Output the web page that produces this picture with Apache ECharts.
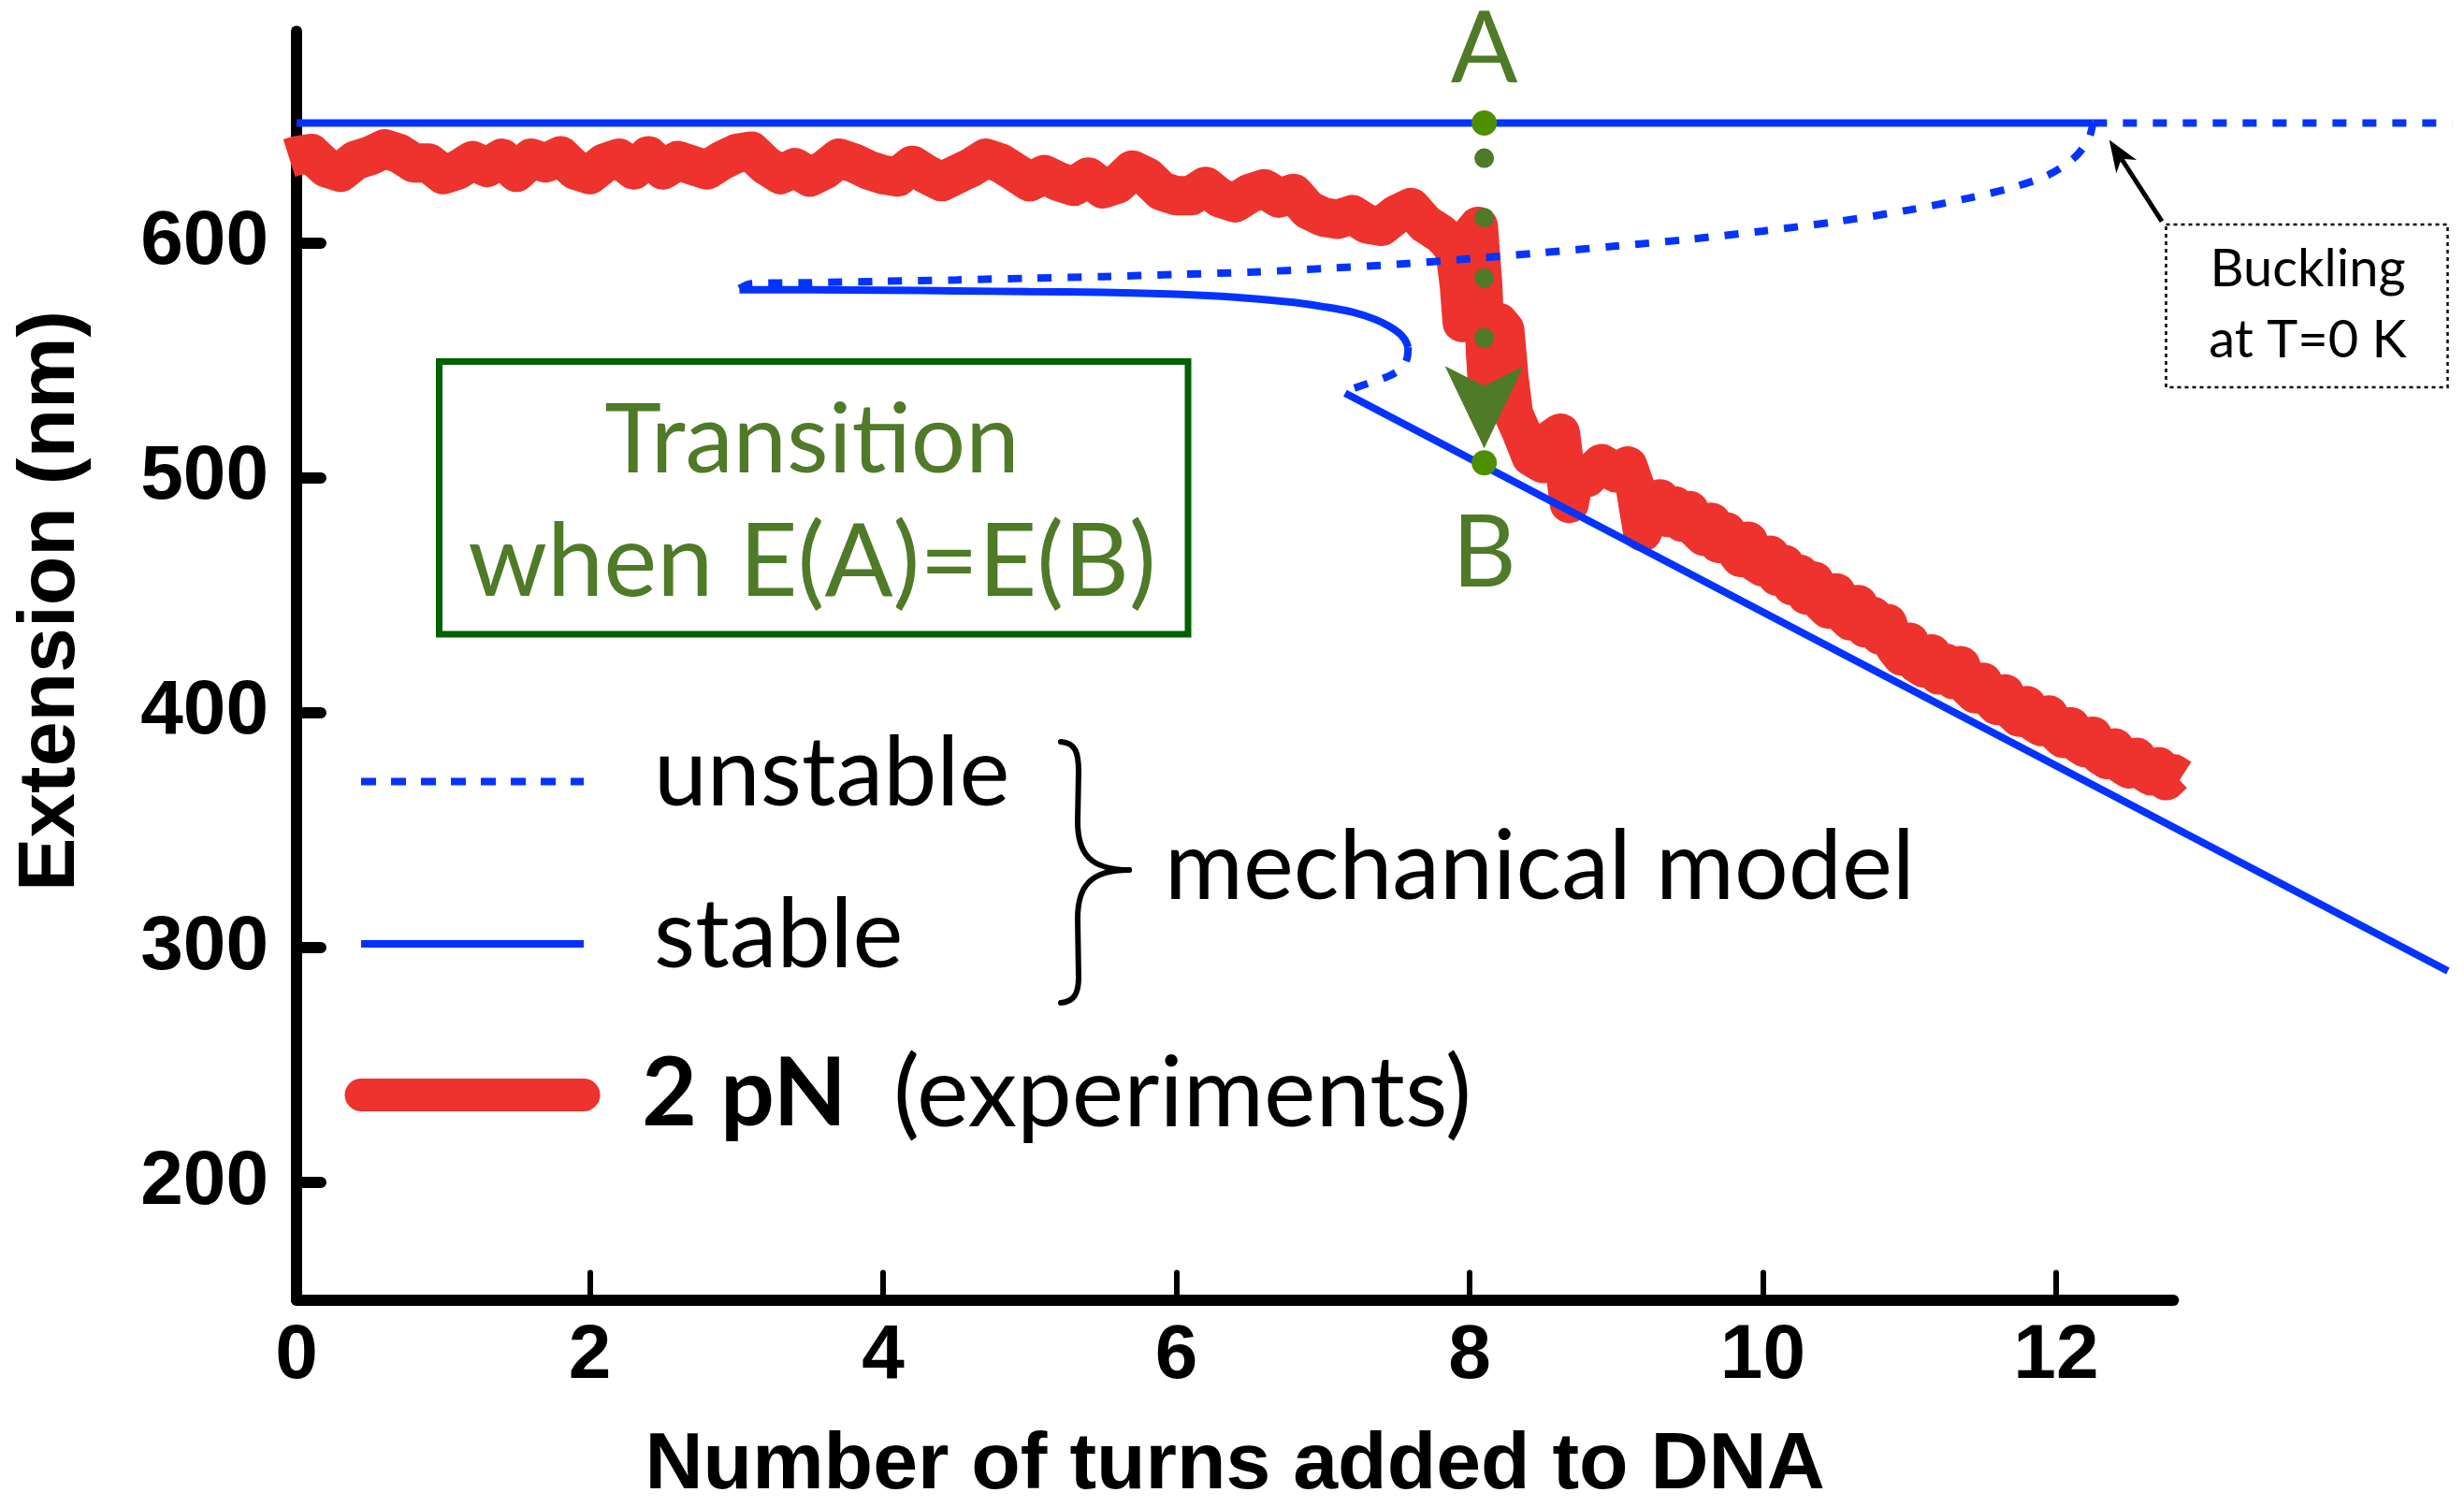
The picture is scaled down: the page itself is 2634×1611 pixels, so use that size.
<!DOCTYPE html>
<html><head><meta charset="utf-8">
<script src="https://cdn.jsdelivr.net/npm/echarts@6.0.0/dist/echarts.min.js"></script>
<style>html,body{margin:0;padding:0;background:#fff}#c{width:2634px;height:1611px}</style>
</head><body><div id="c"></div>
<script>
// ---------- axis ticks ----------
const xTickLabels = [0, 2, 4, 6, 8, 10, 12];
const xTickMarks = [2, 4, 6, 8, 10, 12];
const yTickLabels = [200, 300, 400, 500, 600];

// ---------- experiment: 2 pN ----------
const expX = [-0.05,
  0.0,0.1,0.2,0.3,0.4,0.5,0.6,0.7,0.8,0.9,
  1.0,1.1,1.2,1.3,1.4,1.5,1.6,1.7,1.8,1.9,
  2.0,2.1,2.2,2.3,2.4,2.5,2.6,2.7,2.8,2.9,
  3.0,3.1,3.2,3.3,3.4,3.5,3.6,3.7,3.8,3.9,
  4.0,4.1,4.2,4.3,4.4,4.5,4.6,4.7,4.8,4.9,
  5.0,5.1,5.2,5.3,5.4,5.5,5.6,5.7,5.8,5.9,
  6.0,6.1,6.2,6.3,6.4,6.5,6.6,6.7,6.8,6.9,
  7.0,7.1,7.2,7.3,7.4,7.5,7.6,7.7,7.8,
  7.85,7.9,7.93,7.95,7.98,8.02,8.06,8.09,8.11,8.13,8.16,8.2,8.24,8.27,8.3,8.35,8.42,8.5,8.55,8.62,8.68,8.72,8.8,8.9,9.0,9.08,9.13,9.18,9.25,
  9.3,9.35,9.4,9.45,9.5,9.55,9.6,9.65,9.7,9.75,
  9.8,9.85,9.9,9.95,10.0,10.05,10.1,10.15,10.2,10.25,
  10.3,10.35,10.4,10.45,10.5,10.55,10.6,10.65,10.7,10.75,
  10.8,10.85,10.9,10.95,11.0,11.05,11.1,11.15,11.2,11.25,
  11.3,11.35,11.4,11.45,11.5,11.55,11.6,11.65,11.7,11.75,
  11.8,11.85,11.9,11.95,12.0,12.05,12.1,12.15,12.2,12.25,
  12.3,12.35,12.4,12.45,12.5,12.55,12.6,12.65,12.7,12.75,
  12.8,12.85];
const expY = [636,
  637,638,632,630,635,637,640,638,634,634,
  629,631,635,632,636,630,636,634,637,631,
  629,634,636,631,637,631,635,633,631,635,
  638,639,633,629,632,628,631,636,634,631,
  629,628,633,629,626,629,632,636,634,630,
  626,629,626,624,628,623,625,631,628,622,
  620,620,624,619,617,621,623,619,621,614,
  611,610,612,608,607,612,615,608,604,
  601,597,582,566,575,604,607,582,552,533,546,566,563,542,527,520,509,506,516,519,489,502,500,506,502,505,496,477,488,
  491,483,488,481,486,478,475,481,472,477,
  470,466,473,464,462,467,458,463,454,459,
  450,456,447,444,451,442,439,446,436,441,
  433,438,428,424,430,421,419,425,416,421,
  414,420,411,408,413,406,403,408,401,398,
  403,396,394,399,392,389,394,387,385,390,
  382,380,385,378,376,381,375,373,377,371,
  374,372];

// ---------- mechanical model ----------
const stableTopX = [0, 12.25];
const stableTopY = [651, 651];
const unstableTopX = [12.25, 14.7];
const unstableTopY = [651, 651];
const unstableUpperX = [3.02,3.1,3.5,4.0,4.5,5.0,5.5,6.0,6.5,7.0,7.5,8.0,8.5,9.0,9.5,10.0,10.5,11.0,11.4,11.7,11.95,12.12,12.22,12.25];
const unstableUpperY = [580.5,582.6,583.0,583.6,584.2,584.9,585.6,586.5,587.5,589,590.8,593.2,595.8,598.6,601.5,605,609,614,619,623.5,629,636,644,651];
const stableMidX = [3.02,3.5,4.0,4.5,5.0,5.5,6.0,6.4,6.8,7.0,7.2,7.35,7.45,7.52,7.56,7.58];
const stableMidY = [580,580,579.8,579.5,579.2,578.9,578.1,576.8,574.6,572.8,570.5,567.5,564.5,561.5,558.5,555.5];
const unstableFoldX = [7.58,7.575,7.555,7.51,7.44,7.33,7.15];
const unstableFoldY = [555.5,551.5,548.2,545.4,543,540.6,536.8];
const stableLowX = [7.15, 14.67];
const stableLowY = [536, 290];

// ---------- transition annotation ----------
const transitionX = 8.10;
const endStatesY = [651, 506.3];          // A and B
const pathDotsY = [636, 610.7, 585, 559.6];
const arrowHeadY = 530;
const letterAY = 682;
const letterBY = 467.4;

const BLUE = '#0433FF', RED = '#EE322D', OLIVE = '#4F7A28', LEAF = '#4E8F00', BOXGREEN = '#006100';
const zip = (xs, ys) => xs.map((x, i) => [x, ys[i]]);

const chart = echarts.init(document.getElementById('c'), null, {renderer: 'canvas', width: 2634, height: 1611});

// grid 1 shares the scale of grid 0 but reaches the right edge of the picture
const blueLine = (name, xs, ys, dashed, extra) => Object.assign({
  name, type: 'line', xAxisIndex: 1, yAxisIndex: 1, data: zip(xs, ys), symbol: 'none', showSymbol: false,
  lineStyle: {color: BLUE, width: 8, type: dashed ? [15, 17] : 'solid', cap: 'butt'},
  itemStyle: {color: BLUE}, z: 3, silent: true, clip: false
}, extra || {});

const legendRow = (name, left, top, lineStyle, fmt) => ({
  orient: 'vertical', left: left, top: top, padding: 0,
  itemWidth: 238, itemHeight: 40, selectedMode: false,
  data: [{name: name, itemStyle: {color: 'rgba(0,0,0,0)', borderWidth: 0}, lineStyle: lineStyle}],
  formatter: fmt,
  textStyle: {
    fontFamily: 'Lato', fontSize: 102, color: '#000',
    rich: {
      s1: {width: 70, lineHeight: 120},
      s2: {width: 57, lineHeight: 120},
      g: {width: 50, lineHeight: 120},
      u: {fontFamily: 'Lato', fontSize: 102, lineHeight: 120, color: '#000', padding: [0, 0, 15, 0]},
      b: {fontFamily: 'Lato', fontWeight: 'bold', fontSize: 102, lineHeight: 120, color: '#000'},
      t: {fontFamily: 'Lato', fontSize: 105, lineHeight: 120, color: '#000'}
    }
  }
});

const axisFont = {fontFamily: 'Liberation Sans', fontWeight: 'bold', color: '#000'};

const option = {
  animation: false,
  backgroundColor: '#fff',
  grid: [
    {left: 317, right: 310.7, top: 33.5, bottom: 221.4, containLabel: false, outerBoundsMode: 'none'},
    {left: 317, right: 0, top: 33.5, bottom: 221.4, containLabel: false, outerBoundsMode: 'none'}
  ],
  xAxis: [{
    gridIndex: 0, type: 'value', min: 0, max: 12.8,
    name: 'Number of turns added to DNA', nameLocation: 'middle', nameGap: 135,
    nameTextStyle: Object.assign({fontSize: 86}, axisFont),
    axisLine: {show: true, lineStyle: {color: '#000', width: 12, cap: 'round'}},
    axisTick: {show: true, inside: true, length: 29, customValues: xTickMarks, lineStyle: {color: '#000', width: 6, cap: 'round'}},
    axisLabel: Object.assign({show: true, margin: 20, customValues: xTickLabels, fontSize: 82}, axisFont),
    splitLine: {show: false}
  }, {
    gridIndex: 1, type: 'value', min: 0, max: 14.78, show: false
  }],
  yAxis: [{
    gridIndex: 0, type: 'value', min: 150, max: 690,
    name: 'Extension (nm)', nameLocation: 'middle', nameGap: 219, nameRotate: 90,
    nameTextStyle: Object.assign({fontSize: 86, padding: [0, 0, 0, 138]}, axisFont),
    axisLine: {show: true, lineStyle: {color: '#000', width: 12, cap: 'round'}},
    axisTick: {show: true, inside: true, length: 26, customValues: yTickLabels, lineStyle: {color: '#000', width: 12, cap: 'round'}},
    axisLabel: Object.assign({show: true, margin: 30, customValues: yTickLabels, fontSize: 82}, axisFont),
    splitLine: {show: false}
  }, {
    gridIndex: 1, type: 'value', min: 150, max: 690, show: false
  }],
  legend: [
    legendRow('unstable', 382, 777, {color: BLUE, width: 8, type: [16, 16], cap: 'butt'}, n => '{s1|}{u|' + n + '}'),
    legendRow('stable', 382, 950.5, {color: BLUE, width: 8, type: 'solid', cap: 'butt'}, n => '{s1|}{u|' + n + '}'),
    legendRow('2 pN (experiments)', 368.5, 1118, {color: RED, width: 35, cap: 'round'}, n => '{s2|}{b|2 pN}{g|}{t|(experiments)}')
  ],
  series: [
    {
      name: '2 pN (experiments)', type: 'line', xAxisIndex: 0, yAxisIndex: 0, data: zip(expX, expY),
      symbol: 'none', showSymbol: false,
      lineStyle: {color: RED, width: 42, cap: 'butt', join: 'round'}, itemStyle: {color: RED}, z: 2, silent: true
    },
    blueLine('stable', stableTopX, stableTopY, false),
    blueLine('unstable', unstableTopX, unstableTopY, true),
    blueLine('unstable', unstableUpperX, unstableUpperY, true, {smooth: 0.3}),
    blueLine('stable', stableMidX, stableMidY, false, {smooth: 0.3}),
    blueLine('unstable', unstableFoldX, unstableFoldY, true, {smooth: 0.3}),
    blueLine('stable', stableLowX, stableLowY, false),
    {
      name: 'path dots', type: 'scatter', z: 5, silent: true, symbolSize: 21,
      itemStyle: {color: OLIVE, opacity: 1},
      data: pathDotsY.map(y => [transitionX, y])
    },
    {
      name: 'end states', type: 'scatter', z: 5, silent: true, symbolSize: 27,
      itemStyle: {color: LEAF, opacity: 1},
      data: endStatesY.map(y => [transitionX, y])
    },
    {
      name: 'transition arrow', type: 'scatter', z: 5, silent: true,
      symbol: 'path://M0,0 L50,24 L100,0 L50,100 Z', symbolSize: [84, 88],
      itemStyle: {color: OLIVE, opacity: 1}, data: [[transitionX, arrowHeadY]]
    },
    {
      name: 'state labels', type: 'scatter', z: 6, silent: true, symbolSize: 1,
      itemStyle: {color: 'rgba(0,0,0,0)', opacity: 1},
      label: {show: true, position: 'inside', formatter: '{b}', fontFamily: 'Lato', fontSize: 106, color: OLIVE, opacity: 1},
      data: [{name: 'A', value: [transitionX, letterAY]}, {name: 'B', value: [transitionX, letterBY]}]
    }
  ],
  graphic: [
    {type: 'rect', shape: {x: 469.5, y: 386.5, width: 800.5, height: 291.5}, style: {fill: 'none', stroke: BOXGREEN, lineWidth: 7}, silent: true},
    {type: 'text', x: 868, y: 471.5, style: {text: 'Transition', font: '103px Lato', fill: OLIVE, align: 'center', verticalAlign: 'middle'}, silent: true},
    {type: 'text', x: 868, y: 602, style: {text: 'when E(A)=E(B)', font: '108px Lato', fill: OLIVE, align: 'center', verticalAlign: 'middle'}, silent: true},
    {type: 'text', x: 1245, y: 928.5, style: {text: 'mechanical model', font: '102px Lato', fill: '#000', align: 'left', verticalAlign: 'middle'}, silent: true},
    {type: 'bezierCurve', shape: {x1: 1134, y1: 793, cpx1: 1150, cpy1: 794, cpx2: 1153, cpy2: 805, x2: 1153, y2: 825}, style: {stroke: '#000', lineWidth: 6, fill: 'none', lineCap: 'round'}, silent: true},
    {type: 'line', shape: {x1: 1153, y1: 825, x2: 1152, y2: 878}, style: {stroke: '#000', lineWidth: 6, lineCap: 'round'}, silent: true},
    {type: 'bezierCurve', shape: {x1: 1152, y1: 878, cpx1: 1152, cpy1: 912, cpx2: 1165, cpy2: 930, x2: 1207, y2: 930}, style: {stroke: '#000', lineWidth: 6, fill: 'none', lineCap: 'round'}, silent: true},
    {type: 'bezierCurve', shape: {x1: 1207, y1: 930, cpx1: 1165, cpy1: 930, cpx2: 1152, cpy2: 948, x2: 1152, y2: 982}, style: {stroke: '#000', lineWidth: 6, fill: 'none', lineCap: 'round'}, silent: true},
    {type: 'line', shape: {x1: 1152, y1: 982, x2: 1153, y2: 1045}, style: {stroke: '#000', lineWidth: 6, lineCap: 'round'}, silent: true},
    {type: 'bezierCurve', shape: {x1: 1153, y1: 1045, cpx1: 1153, cpy1: 1062, cpx2: 1148, cpy2: 1071, x2: 1134, y2: 1072}, style: {stroke: '#000', lineWidth: 6, fill: 'none', lineCap: 'round'}, silent: true},
    {type: 'rect', shape: {x: 2315.5, y: 240, width: 301, height: 174}, style: {fill: 'none', stroke: '#000', lineWidth: 2.5, lineDash: [4, 4]}, silent: true},
    {type: 'text', x: 2467, y: 288.3, style: {text: 'Buckling', font: '56px Lato', fill: '#000', align: 'center', verticalAlign: 'middle'}, silent: true},
    {type: 'text', x: 2467, y: 364.3, style: {text: 'at T=0 K', font: '56px Lato', fill: '#000', align: 'center', verticalAlign: 'middle'}, silent: true},
    {type: 'line', shape: {x1: 2311, y1: 236.6, x2: 2268, y2: 170}, style: {stroke: '#000', lineWidth: 5}, silent: true},
    {type: 'polygon', shape: {points: [[2254.8, 149.6], [2284.1, 171.1], [2267.8, 169.8], [2262.3, 185.3]]}, style: {fill: '#000'}, silent: true}
  ]
};
chart.setOption(option);
</script>
</body></html>
